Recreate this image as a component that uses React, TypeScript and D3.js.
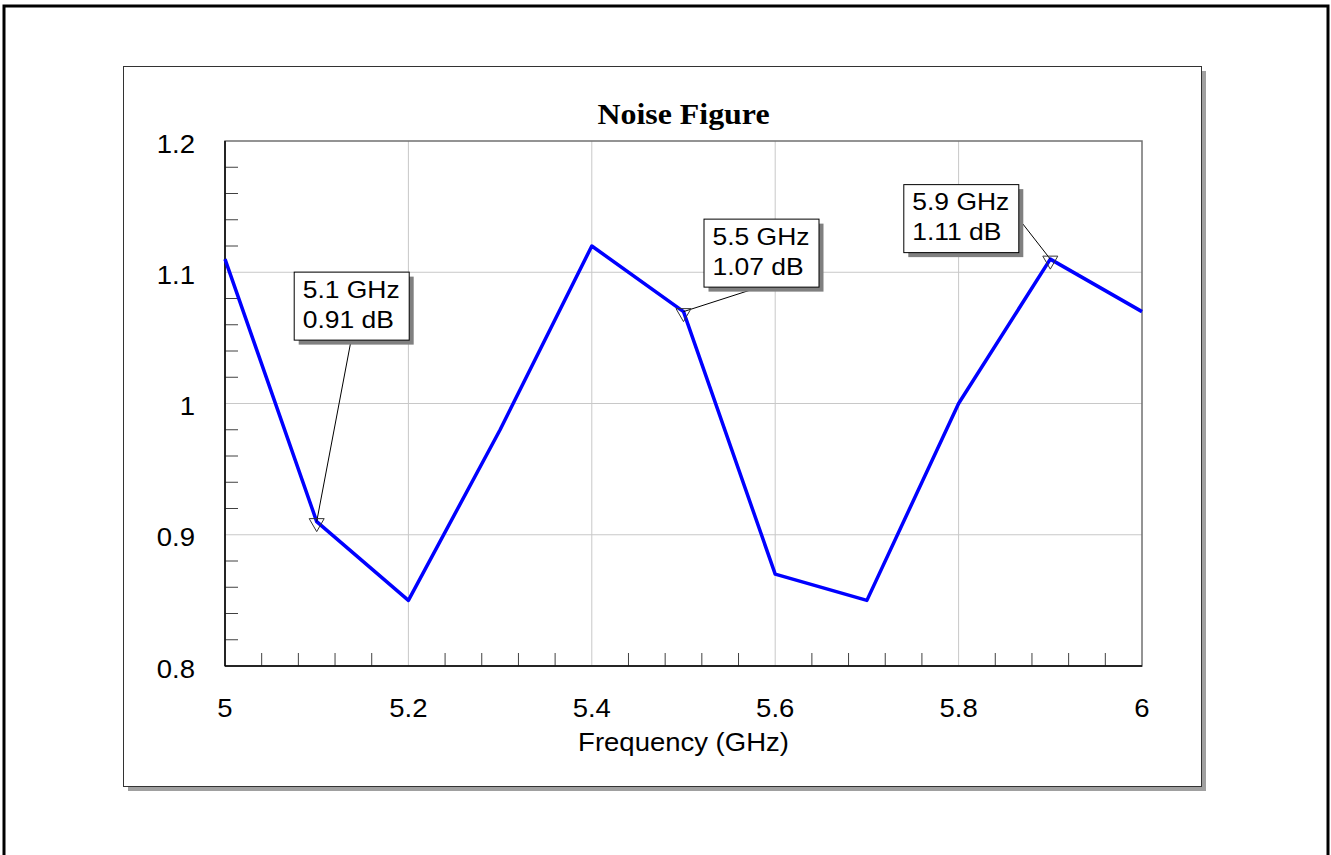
import React from 'react';
import * as d3 from 'd3';

const width = 1331;
const height = 855;
const plot = { left: 225, top: 141, right: 1142, bottom: 666 };

const freqs = [5.0, 5.1, 5.2, 5.3, 5.4, 5.5, 5.6, 5.7, 5.8, 5.9, 6.0];
const noise = [1.11, 0.91, 0.85, 0.98, 1.12, 1.07, 0.87, 0.85, 1.0, 1.11, 1.07];

const xTicks = [5, 5.2, 5.4, 5.6, 5.8, 6];
const yTicks = [0.8, 0.9, 1, 1.1, 1.2];
const xMinor = d3.range(0, 26).map(i => 5 + i * 0.04);
const yMinor = d3.range(0, 21).map(i => 0.8 + i * 0.02);

const markers = [
  { f: 5.1, v: 0.91, label: ['5.1 GHz', '0.91 dB'], dx: -23, dy: -250, anchor: 'bottom' },
  { f: 5.5, v: 1.07, label: ['5.5 GHz', '1.07 dB'], dx: 20, dy: -93, anchor: 'bottom' },
  { f: 5.9, v: 1.11, label: ['5.9 GHz', '1.11 dB'], dx: -147, dy: -75, anchor: 'right' }
];

const boxW = 115;
const boxH = 68;
const sans = 'Liberation Sans, Arial, sans-serif';
const serif = 'Liberation Serif, Times New Roman, serif';
const stretch = 'scale(1.1,1)';

const App = () => {
  const x = d3.scaleLinear().domain([5, 6]).range([plot.left, plot.right]);
  const y = d3.scaleLinear().domain([0.8, 1.2]).range([plot.bottom, plot.top]);

  const line = d3
    .line<number>()
    .x((d, i) => x(freqs[i]))
    .y(d => y(d));

  const near = (a: number, list: number[]) => list.some(t => Math.abs(t - a) < 1e-6);

  return (
    <svg width={width} height={height} style={{ position: 'absolute', left: 0, top: 0 }}>
      <rect x={0} y={0} width={width} height={height} fill="#fff" />
      <rect x={4} y={6} width={1324} height={870} fill="none" stroke="#000" strokeWidth={3} />

      {/* panel with shadow */}
      <rect x={128} y={71} width={1078} height={720} fill="#a0a0a0" />
      <rect x={123.5} y={66.5} width={1078} height={720} fill="#fff" stroke="#333" strokeWidth={1} />

      <text
        transform={`translate(${(plot.left + plot.right) / 2},124) ${stretch}`}
        textAnchor="middle"
        fontFamily={serif}
        fontWeight="bold"
        fontSize={29}
      >
        Noise Figure
      </text>

      {/* grid */}
      {xTicks.slice(1, -1).map(t => (
        <line key={'gx' + t} x1={x(t)} x2={x(t)} y1={plot.top} y2={plot.bottom} stroke="#c8c8c8" strokeWidth={1} />
      ))}
      {yTicks.slice(1, -1).map(t => (
        <line key={'gy' + t} x1={plot.left} x2={plot.right} y1={y(t)} y2={y(t)} stroke="#c8c8c8" strokeWidth={1} />
      ))}

      {/* minor ticks */}
      {xMinor
        .filter(t => !near(t, xTicks))
        .map(t => (
          <line key={'mx' + t} x1={x(t)} x2={x(t)} y1={plot.bottom} y2={plot.bottom - 13} stroke="#404040" strokeWidth={1} />
        ))}
      {yMinor
        .filter(t => !near(t, yTicks))
        .map(t => (
          <line key={'my' + t} x1={plot.left} x2={plot.left + 13} y1={y(t)} y2={y(t)} stroke="#404040" strokeWidth={1} />
        ))}

      {/* plot frame */}
      <rect
        x={plot.left}
        y={plot.top}
        width={plot.right - plot.left}
        height={plot.bottom - plot.top}
        fill="none"
        stroke="#707070"
        strokeWidth={1.5}
      />
      <line x1={plot.left} x2={plot.left} y1={plot.top} y2={plot.bottom} stroke="#000" strokeWidth={1.5} />
      <line x1={plot.left} x2={plot.right} y1={plot.bottom} y2={plot.bottom} stroke="#000" strokeWidth={1.5} />

      {/* tick labels */}
      {yTicks.map(t => (
        <text
          key={'ly' + t}
          transform={`translate(195,${y(t) + 11.5}) ${stretch}`}
          textAnchor="end"
          fontFamily={sans}
          fontSize={25}
        >
          {d3.format('~g')(t)}
        </text>
      ))}
      {xTicks.map(t => (
        <text
          key={'lx' + t}
          transform={`translate(${x(t)},716.5) ${stretch}`}
          textAnchor="middle"
          fontFamily={sans}
          fontSize={25}
        >
          {d3.format('~g')(t)}
        </text>
      ))}
      <text
        transform={`translate(${(plot.left + plot.right) / 2},751) ${stretch}`}
        textAnchor="middle"
        fontFamily={sans}
        fontSize={25}
      >
        Frequency (GHz)
      </text>

      {/* data */}
      <path d={line(noise) || ''} fill="none" stroke="#0000ff" strokeWidth={3.5} strokeLinejoin="round" />

      {/* markers and callouts */}
      {markers.map(m => {
        const px = x(m.f);
        const py = y(m.v);
        const bx = px + m.dx;
        const by = py + m.dy;
        const ax = m.anchor === 'bottom' ? bx + boxW / 2 : bx + boxW;
        const ay = m.anchor === 'bottom' ? by + boxH : by + boxH / 2;
        return (
          <g key={'m' + m.f}>
            <line x1={ax} y1={ay} x2={px} y2={py} stroke="#000" strokeWidth={1} />
            <path
              d={`M${px - 7.5},${py - 3}L${px + 7.5},${py - 3}L${px},${py + 10}Z`}
              fill="none"
              stroke="#333"
              strokeWidth={1}
            />
            <rect x={bx + 5} y={by + 5} width={boxW} height={boxH} fill="#808080" />
            <rect x={bx + 0.5} y={by + 0.5} width={boxW} height={boxH} fill="#fff" stroke="#000" strokeWidth={1} />
            {m.label.map((s, i) => (
              <text
                key={s}
                transform={`translate(${bx + 9},${by + 26 + i * 30}) scale(1.15,1)`}
                fontFamily={sans}
                fontSize={23}
              >
                {s}
              </text>
            ))}
          </g>
        );
      })}
    </svg>
  );
};

export default App;
